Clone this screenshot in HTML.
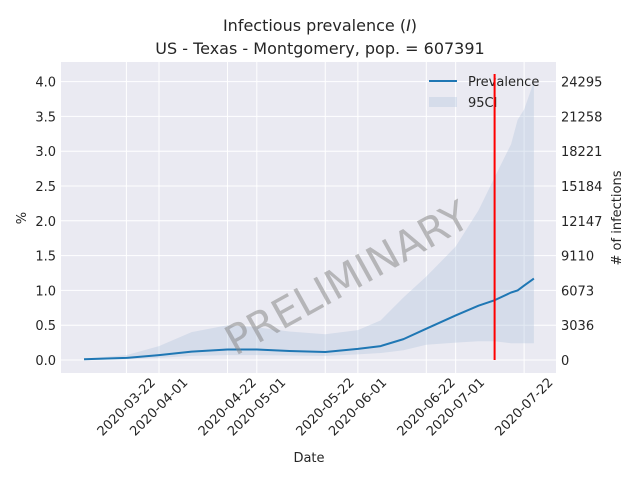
<!DOCTYPE html>
<html><head><meta charset="utf-8"><style>
html,body{margin:0;padding:0;background:#fff;}
svg{display:block;font-family:"DejaVu Sans","Liberation Sans",sans-serif;}
</style></head><body>
<svg id="chart" width="640" height="480" viewBox="0 0 640 480" xmlns="http://www.w3.org/2000/svg">
<text x="320" y="31" text-anchor="middle" font-size="16" fill="#262626">Infectious prevalence (<tspan font-style="italic">I</tspan>)</text>
<text x="320" y="54" text-anchor="middle" font-size="16" fill="#262626">US - Texas - Montgomery, pop. = 607391</text>
<rect x="61" y="62" width="495" height="311" fill="#eaeaf2"/>
<g id="grid"></g><g id="series"></g><g id="axes"></g>
<text x="348" y="292" text-anchor="middle" font-size="41" fill="#888" fill-opacity="0.55" transform="rotate(-29 348 280)">PRELIMINARY</text>
<g>
<line x1="429" y1="81" x2="457" y2="81" stroke="#1f77b4" stroke-width="2"/>
<text x="468" y="86" font-size="13" fill="#262626">Prevalence</text>
<rect x="429" y="97" width="28" height="10" fill="#b0c4de" fill-opacity="0.35"/>
<text x="468" y="107" font-size="13" fill="#262626">95CI</text>
</g>
<line x1="494.6" y1="74" x2="494.6" y2="360" stroke="#ff0000" stroke-width="2"/>
<text x="309" y="462" text-anchor="middle" font-size="13" fill="#262626">Date</text>
<text x="26" y="218" text-anchor="middle" font-size="13" fill="#262626" transform="rotate(-90 26 218)">%</text>
<text x="621" y="218" text-anchor="middle" font-size="13" fill="#262626" transform="rotate(-90 621 218)"># of infections</text>
</svg>
<script>
const dates=["2020-03-09","2020-03-22","2020-04-01","2020-04-11","2020-04-22","2020-05-01","2020-05-11","2020-05-22","2020-06-01","2020-06-08","2020-06-15","2020-06-22","2020-07-01","2020-07-08","2020-07-13","2020-07-18","2020-07-20","2020-07-22","2020-07-25"];
const prevalence=[0.01,0.03,0.07,0.12,0.15,0.15,0.13,0.115,0.16,0.2,0.3,0.45,0.64,0.78,0.86,0.97,1.0,1.07,1.17];
const upper=[0.02,0.07,0.2,0.4,0.5,0.47,0.41,0.37,0.43,0.57,0.9,1.2,1.63,2.15,2.63,3.1,3.45,3.6,4.0];
const lower=[0.0,0.01,0.03,0.06,0.07,0.07,0.065,0.06,0.08,0.1,0.14,0.22,0.25,0.27,0.27,0.24,0.24,0.24,0.24];
const xTicks=["2020-03-22","2020-04-01","2020-04-22","2020-05-01","2020-05-22","2020-06-01","2020-06-22","2020-07-01","2020-07-22"];
const yTicks=[0,0.5,1,1.5,2,2.5,3,3.5,4];
const y2Labels=["0","3036","6073","9110","12147","15184","18221","21258","24295"];
const NS="http://www.w3.org/2000/svg";
const d0=Date.parse("2020-03-22");
function X(d){return 126.4+(Date.parse(d)-d0)/864e5*3.26;}
function Y(v){return 360-v*69.6;}
function mk(t,a,p){const e=document.createElementNS(NS,t);for(const k in a)e.setAttribute(k,a[k]);p.appendChild(e);return e;}
const grid=document.getElementById('grid'),ser=document.getElementById('series'),ax=document.getElementById('axes');
xTicks.forEach(d=>{const x=X(d);
const l=mk('line',{x1:x,y1:62,x2:x,y2:373,stroke:'#fff','stroke-width':1},grid);


const t=mk('text',{x:x,y:411,'text-anchor':'middle','font-size':13,fill:'#262626',transform:`rotate(-45 ${x} 407)`},ax);
t.textContent=d;

});
yTicks.forEach((v,i)=>{const y=Y(v);
const l=mk('line',{x1:61,y1:y,x2:556,y2:y,stroke:'#fff','stroke-width':1},grid);


const t=mk('text',{x:56,y:y+5,'text-anchor':'end','font-size':13,fill:'#262626'},ax);
t.textContent=v.toFixed(1);


const t2=mk('text',{x:561,y:y+5,'font-size':13,fill:'#262626'},ax);
t2.textContent=y2Labels[i];

});
let up=dates.map((d,i)=>X(d)+','+Y(upper[i])).join(' L');
let lo=dates.map((d,i)=>X(d)+','+Y(lower[i])).reverse().join(' L');
const band=mk('path',{d:'M'+up+' L'+lo+' Z',fill:'#b0c4de','fill-opacity':0.35},ser);


const line=mk('path',{d:'M'+dates.map((d,i)=>X(d)+','+Y(prevalence[i])).join(' L'),fill:'none',stroke:'#1f77b4','stroke-width':2,'stroke-linejoin':'round'},ser);


</script>
</body></html>
